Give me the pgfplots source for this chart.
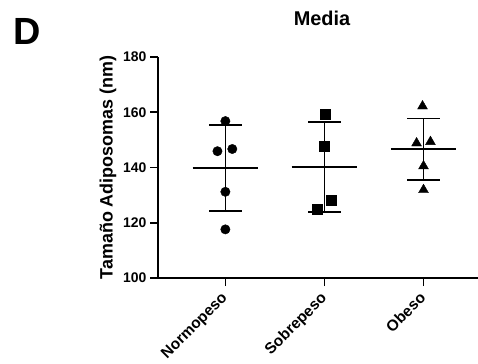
\documentclass[border=0pt]{standalone}
\usepackage{fontspec}
\setmainfont{Liberation Sans}
\usepackage{pgfplots}
\pgfplotsset{compat=1.18}
\begin{document}
\begin{tikzpicture}
\path[use as bounding box] (0bp,0bp) rectangle (478bp,364bp);
\node[anchor=base west, inner sep=0pt, font=\fontsize{38}{38}\selectfont\bfseries] at (13bp,319bp) {D};
\node[anchor=base, inner sep=0pt, font=\fontsize{20}{20}\selectfont\bfseries] at (322bp,338bp) {Media};
\begin{axis}[
  at={(158bp,86bp)}, anchor=south west,
  scale only axis, width=320bp, height=221bp,
  xmin=-0.68, xmax=2.55, ymin=100, ymax=180,
  clip=false,
  axis lines=left,
  axis line style={-, line width=1.6pt},
  tick style={line width=1.6pt, black},
  major tick length=8bp,
  tick align=outside,
  ytick={100,120,140,160,180},
  xtick={0,1,2},
  xticklabels={Normopeso,Sobrepeso,Obeso},
  /pgf/number format/assume math mode=true,
  tick label style={font=\fontsize{14}{14}\selectfont\bfseries},
  x tick label style={xshift=-5bp, yshift=-5bp, rotate=45, anchor=north east, inner sep=0pt, font=\fontsize{15.5}{15.5}\selectfont\bfseries},
  ylabel={Tamaño Adiposomas (nm)},
  ylabel style={font=\fontsize{18}{18}\selectfont\bfseries},
  every axis plot/.append style={black},
]
% individual points
\addplot[only marks, mark=*, mark size=4.7bp] coordinates {(0,156.8) (-0.08,145.9) (0.07,146.7) (0,131.2) (0,117.6)};
\addplot[only marks, mark=square*, mark size=4.9bp] coordinates {(1.01,159.4) (1.00,147.8) (1.07,128.1) (0.93,125.0)};
\addplot[only marks, mark=triangle*, mark size=5.7bp] coordinates {(1.99,162.2) (1.93,148.8) (2.07,149.3) (2.00,140.5) (2.00,131.9)};
% Normopeso: mean 139.8, SD bars 124.3 - 155.3
\addplot[line width=1.6pt] coordinates {(-0.33,139.8) (0.33,139.8)};
\addplot[line width=1.6pt] coordinates {(0,124.3) (0,155.3)};
\addplot[line width=1.6pt] coordinates {(-0.165,155.3) (0.165,155.3)};
\addplot[line width=1.6pt] coordinates {(-0.165,124.3) (0.165,124.3)};
% Sobrepeso: mean 140.15, SD bars 123.8 - 156.5
\addplot[line width=1.6pt] coordinates {(0.67,140.15) (1.33,140.15)};
\addplot[line width=1.6pt] coordinates {(1,123.8) (1,156.5)};
\addplot[line width=1.6pt] coordinates {(0.835,156.5) (1.165,156.5)};
\addplot[line width=1.6pt] coordinates {(0.835,123.8) (1.165,123.8)};
% Obeso: mean 146.6, SD bars 135.5 - 157.7
\addplot[line width=1.6pt] coordinates {(1.67,146.6) (2.33,146.6)};
\addplot[line width=1.6pt] coordinates {(2,135.5) (2,157.7)};
\addplot[line width=1.6pt] coordinates {(1.835,157.7) (2.165,157.7)};
\addplot[line width=1.6pt] coordinates {(1.835,135.5) (2.165,135.5)};
\end{axis}
\end{tikzpicture}
\end{document}
